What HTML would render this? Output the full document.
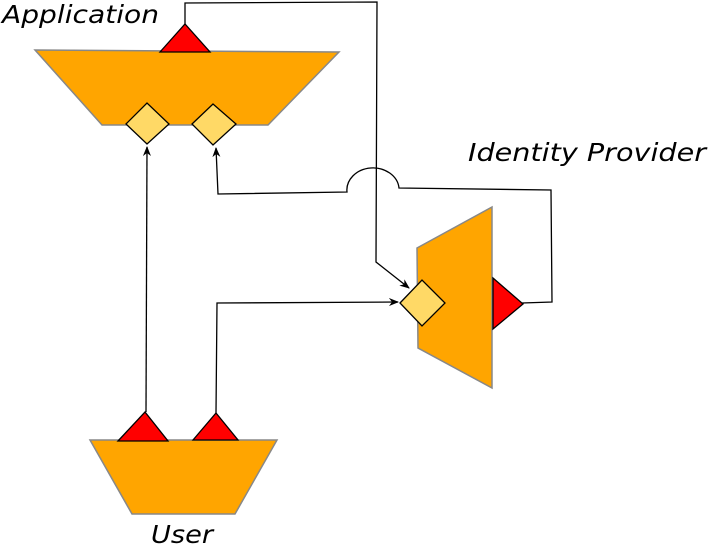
<!DOCTYPE html>
<html><head><meta charset="utf-8"><style>html,body{margin:0;padding:0;background:#fff}svg{display:block}</style></head>
<body>
<svg width="708" height="545" viewBox="0 0 708 545" xmlns="http://www.w3.org/2000/svg">
<defs><marker id="a" markerWidth="10" markerHeight="8" refX="9" refY="4" orient="auto" markerUnits="userSpaceOnUse"><path d="M0,0 L10,4 L0,8 L3,4 Z" fill="#000"/></marker></defs>
<g font-family="'DejaVu Sans', 'Liberation Sans', sans-serif" font-style="italic" font-size="25" fill="#000">
<text x="2" y="23" textLength="157" lengthAdjust="spacingAndGlyphs">Application</text>
<text x="468" y="161" textLength="238" lengthAdjust="spacingAndGlyphs">Identity Provider</text>
<text x="151" y="543" textLength="62" lengthAdjust="spacingAndGlyphs">User</text>
</g>
<g stroke="#000" stroke-width="1.3" fill="none">
<path d="M185,24 L185,3 L377,2 L376,262 L409,288" marker-end="url(#a)"/>
<path d="M522,303 L552,302 L551,190 L399,188 A26,22 0 0 0 347,192 L218,194 L216,148" marker-end="url(#a)"/>
<path d="M146,412 L147,147" marker-end="url(#a)"/>
<path d="M216,413 L217,303 L398,302" marker-end="url(#a)"/>
</g>
<g fill="#FFA500" stroke="#888" stroke-width="1.5">
<polygon points="35,50 339,52 268,125 102,125"/>
<polygon points="417,248 492,207 492,388 418,348"/>
<polygon points="90,440 277,440 235,514 132,514"/>
</g>
<g fill="#FF0000" stroke="#000" stroke-width="1.3">
<polygon points="160,52 185,24 210,52"/>
<polygon points="493,278 523,304 493,329"/>
<polygon points="118,441 145,412 168,441"/>
<polygon points="193,440 216,413 238,440"/>
</g>
<g fill="#FFD966" stroke="#000" stroke-width="1.3">
<polygon points="126,124 147,103 169,124 147,144"/>
<polygon points="192,124 213,104 236,124 213,145"/>
<polygon points="400,303 422,280 445,303 422,326"/>
</g>
</svg>
</body></html>
